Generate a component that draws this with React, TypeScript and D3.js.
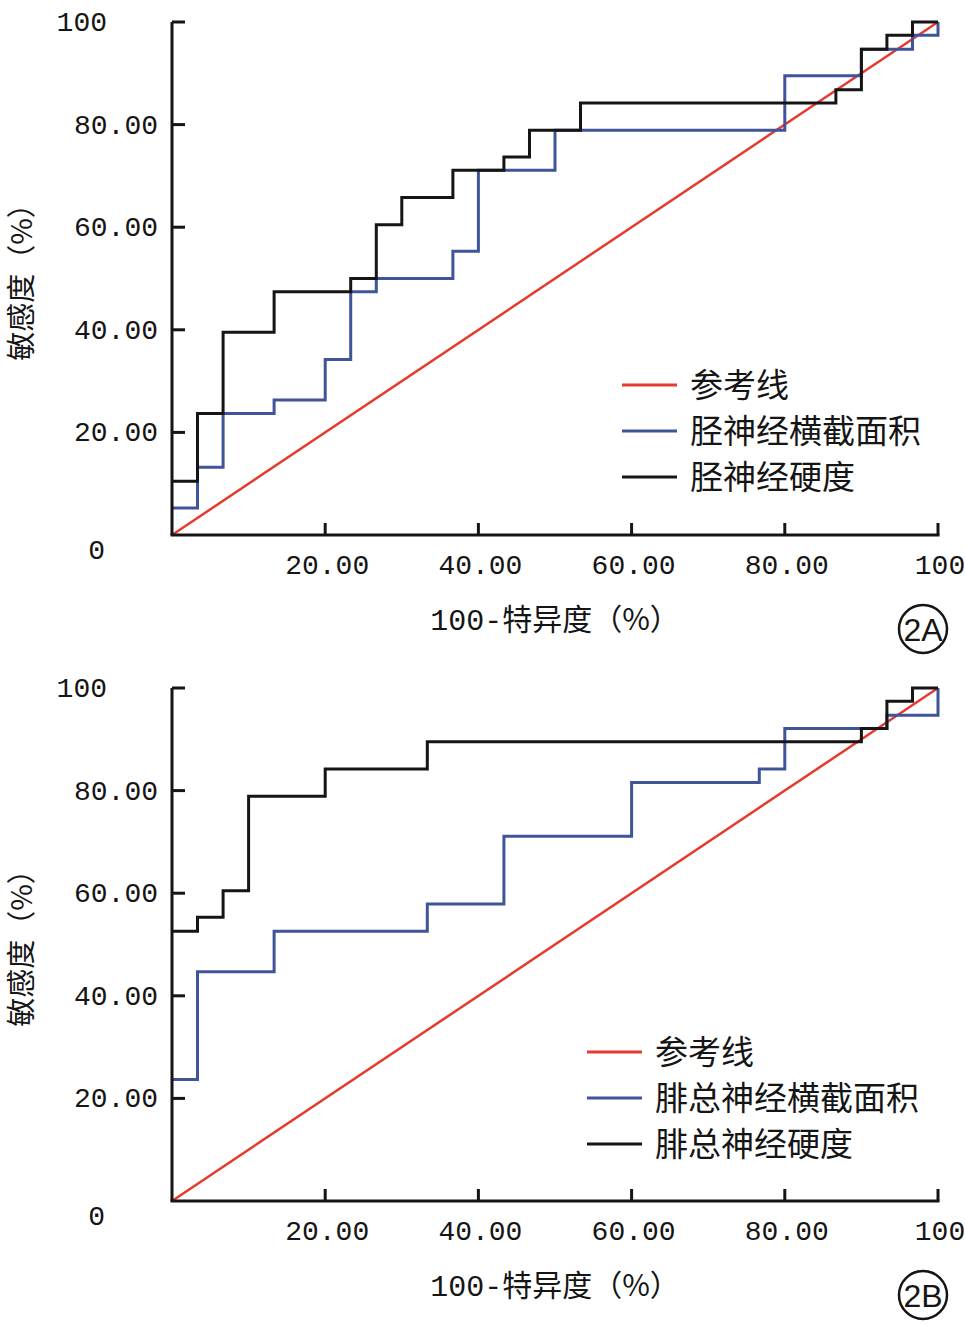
import * as d3 from "d3"

const xTicks = [20, 40, 60, 80, 100]
const xTickLabels = ["20.00", "40.00", "60.00", "80.00", "100"]
const yTicks = [0, 20, 40, 60, 80, 100]
const yTickLabels = ["0", "20.00", "40.00", "60.00", "80.00", "100"]

// panel A: tibial nerve
const aCsaFpr = [0, 3.33, 6.67, 13.33, 20, 23.33, 26.67, 36.67, 40, 50, 80, 90, 96.67, 100]
const aCsaTpr = [5.26, 13.2, 23.7, 26.3, 34.2, 47.4, 50, 55.3, 71.1, 78.9, 89.5, 94.7, 97.4, 100]
const aStiffFpr = [0, 3.33, 6.67, 13.33, 23.33, 26.67, 30, 36.67, 43.33, 46.67, 53.33, 86.67, 90, 93.33, 96.67, 100]
const aStiffTpr = [10.5, 23.7, 39.5, 47.4, 50, 60.5, 65.8, 71.1, 73.7, 78.9, 84.2, 86.8, 94.7, 97.4, 100, 100]

// panel B: common peroneal nerve
const bCsaFpr = [0, 3.33, 13.33, 33.33, 43.33, 60, 76.67, 80, 93.33, 100]
const bCsaTpr = [23.7, 44.7, 52.6, 57.9, 71.1, 81.6, 84.2, 92.1, 94.7, 100]
const bStiffFpr = [0, 3.33, 6.67, 10, 20, 33.33, 90, 93.33, 96.67, 100]
const bStiffTpr = [52.6, 55.3, 60.5, 78.9, 84.2, 89.5, 92.1, 97.4, 100, 100]

const aLegend = ["参考线", "胫神经横截面积", "胫神经硬度"]
const bLegend = ["参考线", "腓总神经横截面积", "腓总神经硬度"]

const RED = "#e63a30"
const BLUE = "#3f5499"
const BLACK = "#151515"
const NUM = "'Liberation Mono', 'Noto Sans CJK SC', monospace"
const CJK = "'Noto Sans CJK SC', sans-serif"

function zip(xs: number[], ys: number[]): [number, number][] {
  return xs.map((x, i) => [x, ys[i]])
}

interface PanelProps {
  top: number
  csa: [number, number][]
  stiff: [number, number][]
  legend: string[]
  legendX: number
  legendY: number
  tag: string
}

function Panel({ top, csa, stiff, legend, legendX, legendY, tag }: PanelProps) {
  const x = d3.scaleLinear().domain([0, 100]).range([172, 938])
  const y = d3.scaleLinear().domain([0, 100]).range([top + 513, top])
  const step = d3.line<[number, number]>().x((d) => x(d[0])).y((d) => y(d[1])).curve(d3.curveStepAfter)
  const straight = d3.line<[number, number]>().x((d) => x(d[0])).y((d) => y(d[1]))
  const colors = [RED, BLUE, BLACK]
  return (
    <g>
      <path d={straight([[0, 0], [100, 100]]) ?? ""} stroke={RED} strokeWidth={2.5} fill="none" />
      <path d={step(csa) ?? ""} stroke={BLUE} strokeWidth={3} fill="none" />
      <path d={step(stiff) ?? ""} stroke={BLACK} strokeWidth={3} fill="none" />
      <line x1={x(0)} x2={x(0)} y1={y(100)} y2={y(0)} stroke={BLACK} strokeWidth={3} />
      <line x1={x(0) - 1.5} x2={x(100) + 1.5} y1={y(0)} y2={y(0)} stroke={BLACK} strokeWidth={3} />
      {yTicks.map((t, i) => (
        <g key={t}>
          {t > 0 && <line x1={x(0)} x2={x(0) + 13} y1={y(t)} y2={y(t)} stroke={BLACK} strokeWidth={3} />}
          <text
            x={t === 0 ? 105 : t === 100 ? 107 : 158}
            y={t === 0 ? y(t) + 24 : y(t) + 9}
            textAnchor="end"
            fontFamily={NUM}
            fontSize={28}
            fill={BLACK}
          >
            {yTickLabels[i]}
          </text>
        </g>
      ))}
      {xTicks.map((t, i) => (
        <g key={t}>
          <line x1={x(t)} x2={x(t)} y1={y(0)} y2={y(0) - 12} stroke={BLACK} strokeWidth={3} />
          <text x={x(t) + 2} y={y(0) + 39} textAnchor="middle" fontFamily={NUM} fontSize={28} fill={BLACK}>
            {xTickLabels[i]}
          </text>
        </g>
      ))}
      <text x={555} y={y(0) + 95} textAnchor="middle" fontSize={30} fill={BLACK}>
        <tspan fontFamily={NUM}>100-</tspan>
        <tspan fontFamily={CJK}>特异度（%）</tspan>
      </text>
      <text
        transform={`translate(32,${top + 253}) rotate(-90)`}
        textAnchor="middle"
        fontFamily={CJK}
        fontSize={29}
        fill={BLACK}
      >
        敏感度（%）
      </text>
      {legend.map((l, i) => (
        <g key={l}>
          <line x1={legendX} x2={legendX + 55} y1={legendY + i * 46} y2={legendY + i * 46} stroke={colors[i]} strokeWidth={3} />
          <text x={legendX + 68} y={legendY + i * 46 + 12} fontFamily={CJK} fontSize={33} fill={BLACK}>
            {l}
          </text>
        </g>
      ))}
      <circle cx={923} cy={top + 607} r={24} fill="white" stroke={BLACK} strokeWidth={2.5} />
      <text x={923} y={top + 619} textAnchor="middle" fontFamily="'Liberation Sans', sans-serif" fontSize={32} fill={BLACK}>
        {tag}
      </text>
    </g>
  )
}

export default function App() {
  return (
    <svg width={965} height={1326} style={{ position: "absolute", left: 0, top: 0, background: "white" }}>
      <rect width={965} height={1326} fill="white" />
      <Panel
        top={22}
        csa={zip(aCsaFpr, aCsaTpr)}
        stiff={zip(aStiffFpr, aStiffTpr)}
        legend={aLegend}
        legendX={622}
        legendY={385}
        tag="2A"
      />
      <Panel
        top={688}
        csa={zip(bCsaFpr, bCsaTpr)}
        stiff={zip(bStiffFpr, bStiffTpr)}
        legend={bLegend}
        legendX={587}
        legendY={1052}
        tag="2B"
      />
    </svg>
  )
}
